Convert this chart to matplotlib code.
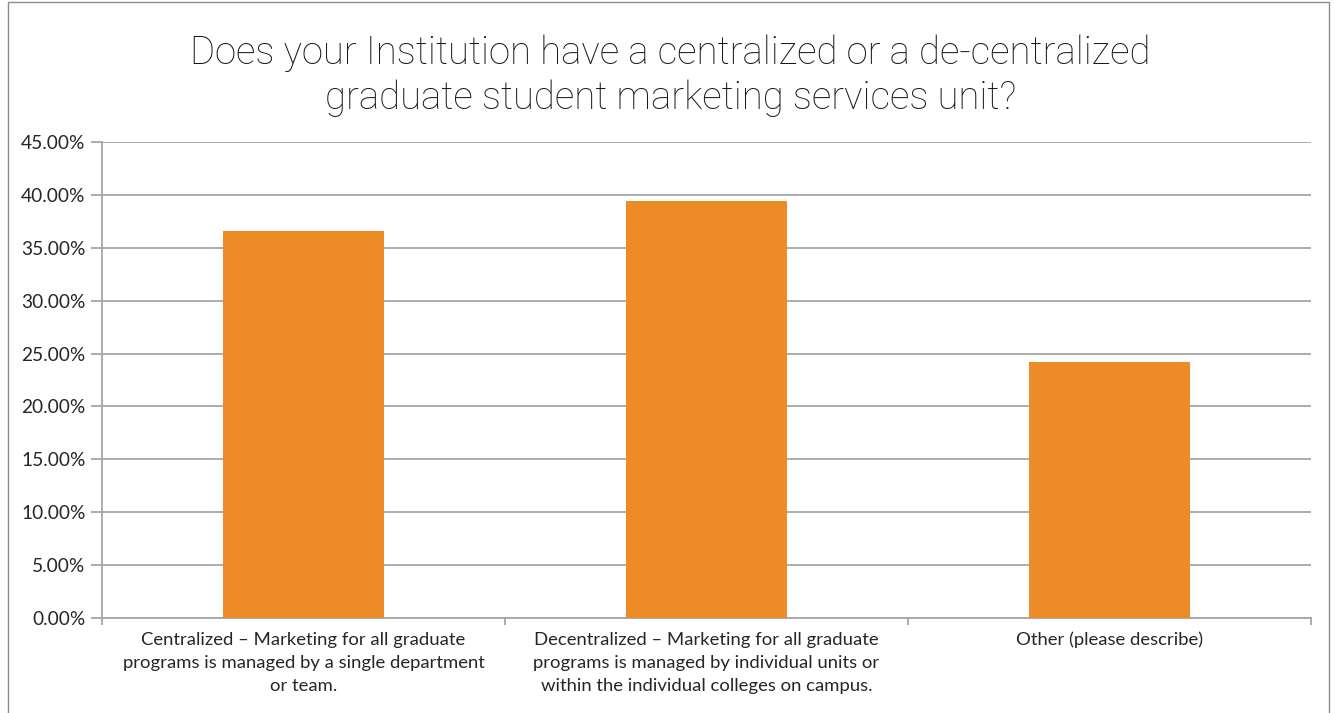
import matplotlib
matplotlib.use("Agg")
import matplotlib.pyplot as plt
from matplotlib.ticker import MultipleLocator, FuncFormatter
from matplotlib.patches import Rectangle

categories = [
    "Centralized \u2013 Marketing for all graduate\nprograms is managed by a single department\nor team.",
    "Decentralized \u2013 Marketing for all graduate\nprograms is managed by individual units or\nwithin the individual colleges on campus.",
    "Other (please describe)",
]
values = [36.6, 39.4, 24.2]
title = "Does your Institution have a centralized or a de-centralized\ngraduate student marketing services unit?"

W, H = 1335, 713
fig = plt.figure(figsize=(W / 100, H / 100), dpi=100)
fig.patch.set_facecolor("white")

# outer chart border
fig.patches.append(Rectangle((8 / W, -0.01), (1329 - 8) / W, (H - 2) / H + 0.01,
                             transform=fig.transFigure, fill=False,
                             edgecolor="#8c8c8c", linewidth=1.0))

left, right, top, bottom = 102, 1311, 142, 618
ax = fig.add_axes([left / W, 1 - bottom / H, (right - left) / W, (bottom - top) / H])

x = list(range(len(categories)))
ax.bar(x, values, width=0.4, color="#ED8B26", zorder=3)
ax.set_xlim(-0.5, len(categories) - 0.5)
ax.set_ylim(0, 45)
ax.yaxis.set_major_locator(MultipleLocator(5))
ax.yaxis.set_major_formatter(FuncFormatter(lambda v, p: f"{v:.2f}%"))
ax.grid(axis="y", color="#a6a6a6", linewidth=1.3, zorder=0)
ax.set_axisbelow(True)

for s in ["top", "right"]:
    ax.spines[s].set_visible(False)
for s in ["left", "bottom"]:
    ax.spines[s].set_color("#a6a6a6")
    ax.spines[s].set_linewidth(1.3)

ax.set_xticks([i - 0.5 for i in range(len(categories) + 1)])
ax.set_xticklabels([])
ax.set_xticks(x, minor=True)
ax.set_xticklabels(categories, minor=True)
ax.tick_params(axis="x", which="major", length=5, color="#a6a6a6", width=1.3)
ax.tick_params(axis="x", which="minor", length=0, pad=10)
ax.tick_params(axis="y", length=8, color="#a6a6a6", width=1.3, pad=4)

lab_font = ["Lato", "DejaVu Sans"]
for t in ax.get_xticklabels(minor=True):
    t.set_fontfamily(lab_font)
    t.set_fontsize(13.3)
    t.set_color("#262626")
    t.set_linespacing(1.55)
for t in ax.get_yticklabels():
    t.set_fontfamily(lab_font)
    t.set_fontsize(13.8)
    t.set_color("#262626")

fig.text(0.502, 1 - 76 / H, title, ha="center", va="center",
         fontsize=27.6, family=["Roboto", "DejaVu Sans"], fontweight="light",
         color="#1a1a1a", linespacing=1.25)

fig.savefig("out.png", dpi=100)
